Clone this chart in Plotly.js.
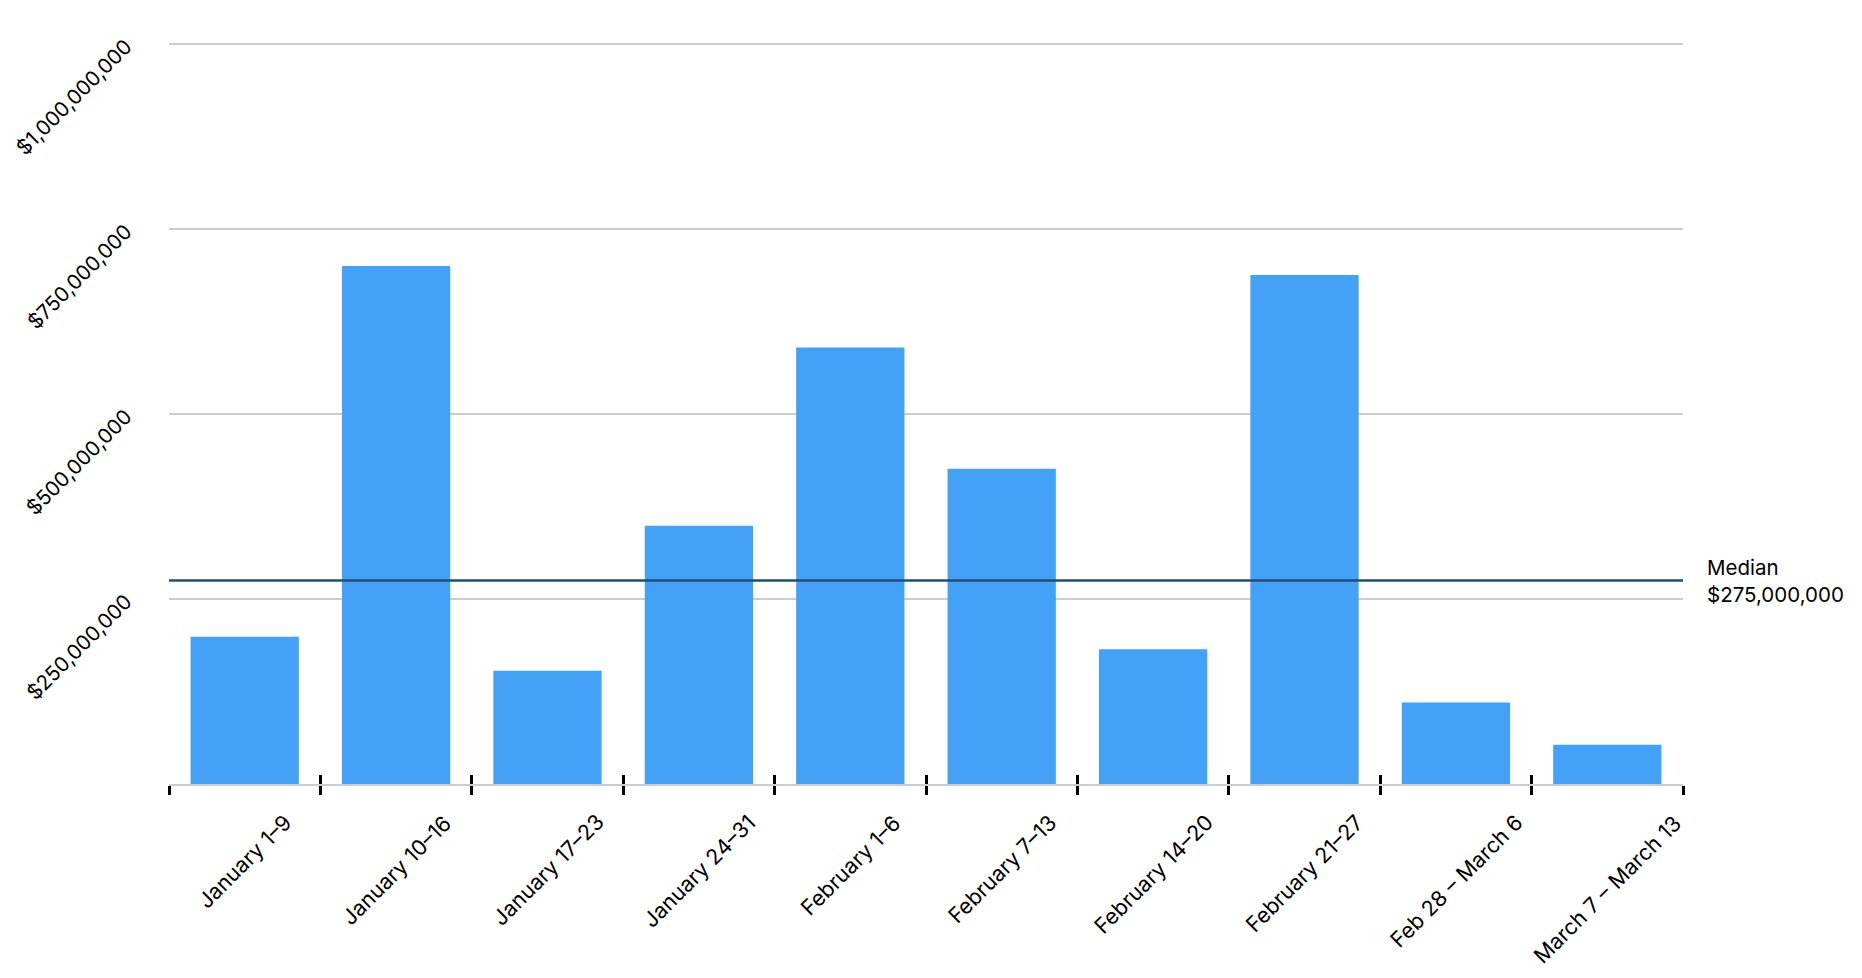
<!DOCTYPE html>
<html>
<head>
<meta charset="utf-8">
<script src="https://cdn.plot.ly/plotly-3.0.1.min.js"></script>
<style>html,body{margin:0;padding:0;background:#fff;}#chart{width:1862px;height:978px;}</style>
</head>
<body>
<div id="chart"></div>
<script>
const categories = ["January 1–9", "January 10–16", "January 17–23", "January 24–31", "February 1–6", "February 7–13", "February 14–20", "February 21–27", "Feb 28 – March 6", "March 7 – March 13"];
const values = [199000000, 700000000, 153000000, 349000000, 590000000, 426000000, 182000000, 688000000, 110000000, 53000000];
const median = 275000000;
const yTickVals = [250000000, 500000000, 750000000, 1000000000];

const FONT = "Inter, 'Open Sans', sans-serif";
const xRange = [-0.5, categories.length - 0.5];

const traces = [
  {
    type: "bar", x: categories, y: values,
    marker: {color: "#43A2F8"}, hoverinfo: "x+y", showlegend: false
  },
  {
    type: "bar", x: categories, y: values, xaxis: "x2",
    marker: {color: "rgba(0,0,0,0)"}, hoverinfo: "skip", showlegend: false
  }
];

// Category labels: slanted, each centred under its category (rotated box centred, top aligned)
const labelAnnotations = categories.map(c => ({
  xref: "x", x: c, xanchor: "center",
  yref: "paper", y: 0, yanchor: "top", yshift: -24,
  textangle: -45, showarrow: false, borderpad: 0,
  text: c,
  font: {family: FONT, size: 21.5, color: "#000000"}
}));

const layout = {
  width: 1862, height: 978,
  margin: {l: 169, r: 179, t: 42, b: 194},
  paper_bgcolor: "#ffffff", plot_bgcolor: "#ffffff",
  font: {family: FONT, size: 20, color: "#000000"},
  bargap: 0.285,
  showlegend: false,
  xaxis: {
    type: "category",
    range: xRange, autorange: false,
    tickson: "boundaries",
    ticks: "outside", ticklen: 9, tickwidth: 3, tickcolor: "#000000",
    showline: true, linecolor: "#cccccc", linewidth: 2,
    showgrid: false, zeroline: false,
    showticklabels: false
  },
  xaxis2: {
    type: "category", overlaying: "x", matches: "x", anchor: "y",
    tickson: "boundaries",
    ticks: "inside", ticklen: 9, tickwidth: 3, tickcolor: "#000000",
    showticklabels: false, showline: false, showgrid: false, zeroline: false
  },
  yaxis: {
    range: [0, 1002700000], autorange: false,
    tickvals: yTickVals,
    tickformat: "$,.0f",
    tickangle: -45,
    showgrid: true, gridcolor: "#cccccc", gridwidth: 1.5,
    zeroline: false, showline: false, ticks: "",
    ticklabelstandoff: 42,
    tickfont: {family: FONT, size: 20.5, color: "#000000"}
  },
  shapes: [
    {type: "line", xref: "paper", x0: 0, x1: 1, yref: "y", y0: median, y1: median,
     line: {color: "#1F4E79", width: 2.5}, layer: "above"}
  ],
  annotations: labelAnnotations.concat([
    {xref: "paper", x: 1, xanchor: "left", xshift: 22, yref: "y", y: median, yanchor: "middle",
     align: "left", showarrow: false,
     text: "Median<br>$" + median.toLocaleString("en-US"),
     font: {family: FONT, size: 20.5, color: "#000000"}}
  ])
};

Plotly.newPlot("chart", traces, layout, {displayModeBar: false, staticPlot: true});
</script>
</body>
</html>
